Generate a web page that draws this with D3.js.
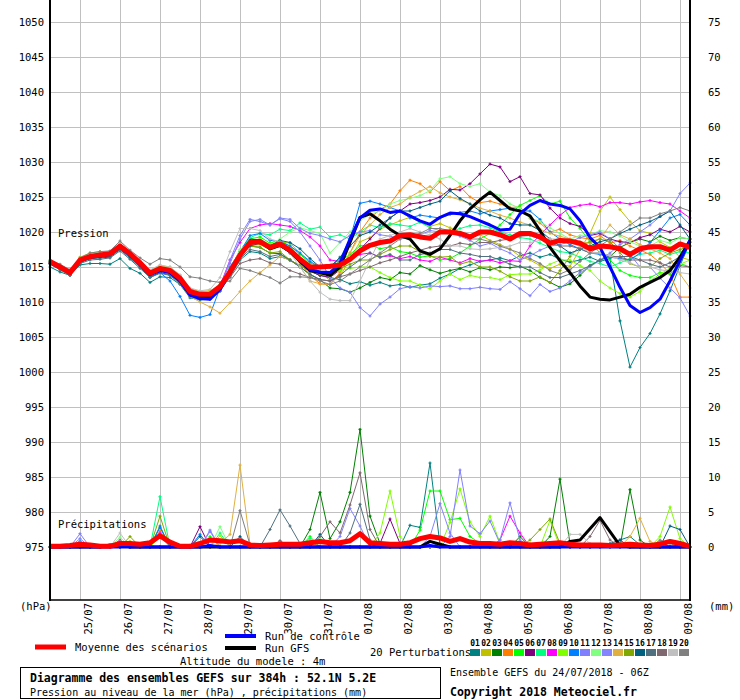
<!DOCTYPE html>
<html><head><meta charset="utf-8">
<script src="https://cdn.jsdelivr.net/npm/d3@7"></script>
<style>body{margin:0;background:#fff}svg{display:block}text{font-family:"DejaVu Sans Mono",monospace;fill:#000}</style>
</head><body><svg id="c" width="740" height="700"></svg>
<script>
// ---------- DATA ----------
const dateLabels = ["25/07","26/07","27/07","28/07","29/07","30/07","31/07","01/08","02/08","03/08","04/08","05/08","06/08","07/08","08/08","09/08"];
const pressureTicks = [975,980,985,990,995,1000,1005,1010,1015,1020,1025,1030,1035,1040,1045,1050];
const precipTicks = [0,5,10,15,20,25,30,35,40,45,50,55,60,65,70,75];
const memberNames = ["01","02","03","04","05","06","07","08","09","10","11","12","13","14","15","16","17","18","19","20"];
const memberColors = ["#008080","#c0c000","#008000","#ff8000","#00ff00","#800080","#00ff80","#ff00ff","#80ff00","#0080ff","#8080ff","#80ff80","#8484ff","#e0b040","#80a800","#006080","#507080","#806870","#c0c0c0","#808080"];

// sea-level pressure, one value every 6 h from 24/07 06Z (hPa)
const pMean = [1015.8,1015.0,1014.2,1016.0,1016.5,1016.7,1016.9,1018.0,1016.9,1015.6,1014.1,1014.8,1014.5,1013.4,1011.5,1011.1,1011.1,1012.2,1014.3,1016.7,1018.5,1018.6,1017.8,1018.3,1017.4,1016.1,1015.0,1015.0,1015.1,1015.3,1016.1,1017.3,1018.1,1018.5,1018.7,1019.5,1019.6,1019.3,1019.1,1020.0,1020.0,1019.8,1019.3,1020.0,1020.0,1019.6,1019.0,1019.8,1019.8,1019.3,1018.4,1018.8,1018.7,1018.4,1017.6,1018.0,1017.9,1017.6,1016.8,1017.6,1017.9,1017.9,1017.4,1018.3,1017.8];
const pControl = [1015.6,1014.9,1014.1,1015.9,1016.4,1016.6,1016.8,1017.9,1016.7,1015.4,1013.9,1014.5,1014.2,1013.0,1011.0,1010.5,1010.4,1011.8,1014.2,1016.8,1018.6,1018.8,1017.8,1018.3,1017.3,1016.0,1014.6,1014.3,1014.2,1015.5,1019.0,1022.0,1023.1,1023.3,1022.8,1023.0,1022.3,1021.6,1021.1,1022.1,1022.7,1022.6,1022.2,1021.6,1021.0,1020.3,1020.4,1022.6,1023.8,1024.5,1024.0,1023.8,1023.3,1021.6,1019.2,1017.8,1015.0,1012.1,1009.5,1008.5,1009.2,1010.4,1013.0,1015.9,1018.8];
const pGFS = [1015.7,1015.0,1014.2,1016.0,1016.5,1016.6,1016.8,1017.9,1016.8,1015.5,1014.0,1014.7,1014.4,1013.2,1011.2,1010.8,1010.8,1012.0,1014.2,1016.8,1018.4,1018.6,1017.6,1018.1,1017.2,1015.8,1014.5,1014.2,1013.8,1015.0,1018.5,1022.1,1022.6,1021.6,1020.4,1019.5,1019.0,1017.3,1016.8,1017.6,1019.5,1021.6,1023.3,1024.6,1025.7,1024.5,1023.3,1023.0,1022.3,1020.2,1017.8,1015.9,1014.2,1012.3,1010.7,1010.4,1010.3,1010.7,1011.1,1012.1,1012.8,1013.5,1014.5,1016.4,1018.8];
const p01 = [1015.0,1014.3,1013.8,1015.3,1015.5,1015.5,1015.4,1016.2,1014.8,1014.1,1012.8,1013.6,1013.5,1012.5,1010.6,1010.3,1010.4,1011.6,1013.6,1016.0,1017.2,1017.0,1016.2,1016.5,1016.0,1015.2,1014.4,1013.8,1013.5,1013.2,1012.6,1012.9,1012.4,1012.8,1012.3,1012.5,1012.1,1012.4,1012.6,1013.4,1014.0,1014.8,1015.3,1015.8,1016.0,1016.3,1015.9,1016.6,1017.0,1016.4,1016.8,1016.1,1015.7,1016.0,1016.4,1015.8,1016.2,1007.3,1000.7,1003.5,1005.5,1008.3,1011.6,1015.2,1018.5];
const p02 = [1015.9,1015.2,1014.5,1016.4,1017.0,1017.2,1017.1,1018.3,1017.2,1015.9,1014.5,1015.2,1015.0,1013.8,1011.9,1011.5,1011.6,1012.4,1014.5,1017.0,1018.8,1019.0,1018.2,1018.6,1018.4,1017.0,1015.5,1014.2,1013.1,1013.6,1016.2,1018.6,1019.2,1020.4,1021.0,1021.6,1022.1,1021.4,1020.8,1021.2,1020.6,1020.0,1019.3,1019.6,1018.8,1018.2,1017.6,1016.5,1016.0,1015.2,1014.8,1015.4,1015.1,1017.5,1019.8,1023.0,1025.0,1023.2,1021.5,1020.2,1019.8,1018.6,1017.8,1016.4,1016.0];
const p03 = [1015.6,1014.8,1014.0,1015.8,1016.3,1016.4,1016.6,1017.8,1016.5,1015.2,1013.8,1014.5,1014.2,1013.0,1011.0,1010.7,1010.6,1011.8,1014.0,1016.5,1018.0,1017.8,1017.0,1016.9,1016.0,1015.0,1013.9,1013.2,1012.0,1011.9,1011.4,1012.0,1012.8,1013.5,1013.2,1014.2,1014.0,1015.2,1014.6,1014.1,1014.5,1014.8,1014.3,1014.9,1014.6,1015.0,1014.9,1015.1,1014.5,1013.5,1012.8,1012.1,1012.6,1013.8,1015.2,1016.0,1016.5,1017.8,1018.5,1019.0,1018.6,1019.4,1018.8,1019.2,1019.0];
const p04 = [1015.7,1015.1,1014.3,1016.1,1016.7,1016.9,1016.8,1018.1,1017.0,1015.7,1014.3,1014.9,1014.7,1013.6,1011.6,1011.0,1011.2,1012.0,1014.2,1016.8,1018.5,1018.8,1017.6,1018.0,1017.0,1015.6,1013.8,1012.6,1012.5,1014.2,1017.0,1020.0,1022.0,1023.2,1024.0,1025.9,1027.4,1026.9,1025.7,1027.2,1025.9,1026.5,1025.0,1024.2,1024.4,1024.0,1023.5,1023.6,1022.0,1021.3,1020.0,1020.4,1019.6,1019.2,1019.0,1019.5,1018.4,1018.8,1018.0,1017.4,1016.8,1015.6,1014.0,1010.7,1010.7];
const p05 = [1015.8,1015.1,1014.4,1016.2,1016.6,1016.8,1017.0,1018.1,1017.0,1015.7,1014.2,1015.0,1014.6,1013.5,1011.3,1010.9,1011.0,1012.1,1014.8,1017.4,1019.0,1019.3,1018.4,1018.8,1018.0,1016.8,1015.6,1015.0,1015.0,1015.8,1016.8,1018.0,1018.2,1017.6,1017.9,1017.2,1017.0,1016.4,1016.6,1016.0,1016.2,1017.0,1018.0,1019.0,1019.8,1021.0,1022.5,1023.8,1024.5,1025.2,1024.0,1024.4,1022.0,1020.5,1018.6,1017.0,1016.0,1014.5,1013.8,1013.5,1013.5,1014.2,1014.0,1015.5,1015.0];
const p06 = [1015.6,1014.9,1014.1,1016.0,1016.4,1016.5,1016.8,1017.9,1016.7,1015.4,1013.9,1014.6,1014.3,1013.2,1011.2,1010.8,1010.8,1012.0,1014.4,1016.9,1019.0,1018.8,1017.6,1018.0,1017.0,1015.8,1014.4,1013.8,1013.5,1014.6,1016.0,1017.5,1019.0,1020.5,1022.0,1023.0,1024.0,1024.2,1024.5,1025.0,1026.1,1026.0,1026.9,1028.3,1029.7,1029.3,1027.2,1027.9,1025.5,1025.3,1023.4,1022.0,1021.2,1020.8,1019.5,1019.8,1019.0,1018.6,1018.5,1019.2,1019.6,1020.4,1020.0,1020.8,1020.0];
const p07 = [1015.9,1015.2,1014.4,1016.1,1016.6,1016.9,1017.0,1018.2,1017.1,1015.8,1014.3,1015.0,1014.8,1013.7,1011.7,1011.3,1011.3,1012.5,1014.6,1017.2,1019.2,1019.8,1019.6,1020.4,1020.2,1021.3,1020.4,1020.7,1019.3,1019.6,1019.0,1020.0,1021.0,1020.6,1021.2,1021.0,1020.8,1021.4,1020.6,1020.2,1020.0,1020.5,1020.9,1021.0,1020.6,1020.0,1019.6,1019.2,1019.0,1018.4,1017.8,1017.2,1017.0,1016.4,1015.8,1015.5,1015.0,1015.6,1016.2,1016.8,1017.0,1017.4,1016.8,1017.2,1017.0];
const p08 = [1015.7,1015.0,1014.2,1016.0,1016.6,1016.9,1017.0,1018.0,1016.9,1015.5,1014.0,1014.7,1014.4,1013.3,1011.4,1011.0,1011.0,1012.3,1016.0,1018.5,1020.5,1021.0,1021.2,1021.0,1020.8,1020.2,1019.3,1018.0,1016.0,1015.8,1016.2,1016.8,1017.0,1016.4,1016.6,1016.2,1016.5,1016.0,1015.8,1016.4,1016.0,1015.6,1016.2,1015.8,1016.0,1015.6,1015.9,1015.8,1018.0,1019.6,1021.0,1022.4,1023.5,1023.8,1024.0,1023.6,1024.2,1024.2,1024.0,1024.3,1024.5,1024.2,1024.0,1023.0,1022.0];
const p09 = [1015.8,1015.0,1014.3,1016.0,1016.5,1016.6,1016.9,1017.9,1016.8,1015.6,1014.1,1014.8,1014.5,1013.4,1011.6,1011.2,1011.2,1012.2,1014.2,1016.6,1018.0,1018.2,1017.5,1017.9,1017.5,1016.2,1015.0,1014.3,1014.0,1014.5,1014.8,1015.0,1015.0,1014.2,1013.5,1013.0,1013.0,1012.4,1011.9,1013.0,1014.0,1013.2,1013.8,1013.5,1013.5,1013.2,1013.9,1014.0,1014.0,1014.6,1015.4,1016.0,1016.0,1015.2,1014.5,1013.0,1012.0,1011.2,1010.7,1011.5,1013.0,1014.0,1014.8,1015.4,1016.0];
const p10 = [1015.5,1014.8,1014.0,1015.7,1016.2,1016.4,1016.5,1017.6,1016.4,1015.0,1013.5,1014.2,1013.0,1010.8,1008.1,1007.8,1008.2,1012.0,1015.0,1017.2,1019.5,1019.8,1018.8,1018.6,1018.0,1017.0,1015.8,1015.0,1015.0,1016.2,1019.0,1024.1,1024.4,1024.0,1023.5,1023.0,1022.0,1022.4,1022.2,1022.0,1022.5,1022.8,1023.0,1022.6,1023.0,1023.2,1023.4,1023.0,1023.0,1021.8,1020.0,1019.0,1018.2,1017.6,1017.0,1016.8,1016.4,1016.2,1016.0,1017.0,1018.5,1020.2,1022.0,1022.5,1021.0];
const p11 = [1015.6,1014.9,1014.0,1015.9,1016.4,1016.6,1016.7,1017.8,1016.6,1015.3,1013.8,1014.4,1014.2,1013.0,1011.0,1010.6,1010.7,1012.0,1016.0,1019.5,1021.8,1021.5,1021.0,1021.9,1021.5,1020.0,1018.0,1016.0,1013.5,1012.0,1011.4,1009.2,1008.0,1009.7,1010.7,1011.9,1012.2,1012.0,1012.3,1012.2,1012.3,1011.9,1011.9,1012.1,1011.9,1011.8,1012.9,1011.9,1010.9,1012.5,1011.5,1012.0,1013.0,1014.2,1015.0,1016.0,1017.0,1018.2,1019.0,1020.0,1021.0,1022.2,1023.0,1025.5,1027.0];
const p12 = [1015.9,1015.1,1014.4,1016.2,1016.8,1017.0,1017.1,1018.2,1017.1,1015.8,1014.3,1015.0,1014.7,1013.6,1011.5,1011.2,1011.3,1012.4,1014.6,1017.5,1018.5,1018.9,1018.2,1019.0,1020.0,1020.6,1020.2,1019.8,1017.0,1018.5,1020.0,1021.6,1022.5,1023.0,1024.0,1024.5,1024.8,1025.2,1025.9,1027.6,1027.9,1026.9,1026.5,1026.9,1025.7,1025.2,1024.0,1023.4,1022.0,1021.5,1020.6,1019.8,1019.0,1019.5,1019.6,1020.2,1020.0,1019.4,1018.6,1018.0,1018.0,1018.8,1018.4,1019.2,1019.0];
const p13 = [1015.7,1015.0,1014.2,1016.0,1016.5,1016.8,1016.9,1018.0,1016.9,1015.5,1014.0,1014.7,1014.4,1013.3,1011.2,1010.9,1011.0,1012.3,1015.5,1019.0,1021.5,1021.8,1021.0,1022.0,1021.8,1020.5,1019.8,1019.5,1019.0,1018.6,1019.5,1020.0,1020.2,1019.6,1019.4,1019.0,1019.2,1019.6,1020.2,1020.0,1020.0,1019.4,1018.8,1018.0,1018.4,1017.6,1017.0,1016.0,1016.6,1017.4,1018.0,1018.2,1018.6,1019.2,1019.6,1020.0,1019.0,1017.6,1016.8,1015.0,1015.0,1013.4,1012.0,1010.6,1008.0];
const p14 = [1015.6,1014.8,1014.1,1015.8,1016.3,1016.5,1016.6,1017.7,1016.6,1015.2,1013.8,1014.4,1014.0,1012.6,1010.8,1010.0,1009.3,1008.4,1009.9,1011.5,1013.0,1014.2,1015.3,1016.5,1016.0,1015.0,1013.0,1012.6,1012.5,1014.0,1017.0,1019.5,1021.0,1022.5,1023.5,1024.0,1025.0,1025.8,1026.5,1025.6,1025.0,1024.6,1024.0,1023.4,1023.0,1022.4,1022.0,1021.4,1021.0,1020.4,1019.8,1019.4,1019.0,1018.6,1018.4,1019.0,1021.0,1019.6,1019.0,1018.2,1017.6,1017.0,1016.2,1014.0,1012.0];
const p15 = [1015.8,1015.1,1014.3,1016.1,1016.6,1016.8,1017.0,1018.0,1017.0,1015.7,1014.2,1014.9,1014.6,1013.5,1011.5,1011.2,1011.1,1012.3,1014.3,1016.8,1018.0,1017.8,1017.0,1017.2,1016.0,1015.2,1014.4,1014.0,1014.0,1014.8,1015.4,1016.0,1016.0,1016.8,1017.5,1018.0,1018.0,1017.2,1016.5,1016.4,1016.5,1015.4,1015.8,1015.0,1015.0,1014.4,1013.6,1013.0,1013.0,1013.6,1012.8,1014.5,1016.5,1018.0,1018.6,1019.0,1018.6,1017.0,1015.5,1015.0,1015.0,1016.2,1017.0,1017.5,1018.0];
const p16 = [1015.5,1014.7,1013.9,1015.6,1016.2,1016.3,1016.4,1017.5,1016.3,1015.0,1013.6,1014.2,1013.9,1012.8,1010.9,1010.4,1010.5,1011.7,1014.0,1016.6,1018.0,1018.4,1018.0,1018.8,1018.5,1017.6,1016.2,1015.0,1015.0,1016.4,1018.0,1019.5,1020.0,1021.0,1022.0,1023.0,1023.0,1023.5,1024.0,1024.4,1025.9,1024.8,1024.0,1023.0,1022.4,1022.0,1021.2,1021.0,1021.0,1020.2,1019.0,1018.0,1017.0,1017.5,1018.0,1018.6,1019.0,1019.8,1020.4,1021.0,1021.5,1022.2,1023.0,1021.0,1019.0];
const p17 = [1015.4,1014.6,1013.8,1015.5,1016.0,1016.1,1016.3,1017.3,1016.1,1014.8,1013.5,1014.1,1013.8,1012.6,1010.8,1010.5,1010.4,1011.5,1013.8,1016.2,1017.5,1017.2,1016.5,1016.8,1016.0,1015.0,1014.0,1013.2,1013.0,1013.8,1015.0,1016.0,1017.0,1016.4,1016.8,1016.0,1016.0,1016.8,1017.0,1017.5,1017.5,1017.0,1016.8,1016.5,1016.5,1016.0,1015.4,1015.0,1015.0,1014.2,1013.5,1013.5,1014.0,1014.5,1015.2,1016.0,1016.5,1016.5,1016.5,1016.0,1015.4,1015.0,1015.6,1016.5,1018.0];
const p18 = [1015.7,1014.9,1014.2,1015.9,1016.4,1016.6,1016.8,1017.8,1016.8,1015.4,1014.0,1014.7,1014.4,1013.3,1011.3,1011.0,1010.9,1012.1,1013.5,1015.5,1016.0,1016.2,1015.6,1015.4,1014.5,1014.0,1013.5,1013.2,1013.0,1013.6,1014.0,1014.5,1015.0,1015.6,1016.0,1016.5,1017.0,1017.4,1017.8,1018.0,1018.0,1018.4,1018.2,1018.5,1018.5,1018.8,1019.0,1019.4,1019.5,1019.0,1018.4,1018.0,1018.0,1017.6,1017.0,1017.0,1016.6,1016.4,1016.0,1016.0,1016.0,1015.6,1015.0,1015.2,1015.0];
const p19 = [1015.9,1015.2,1014.5,1016.2,1016.8,1017.0,1017.2,1018.3,1017.2,1015.9,1014.6,1015.3,1015.0,1013.9,1012.0,1011.6,1011.8,1013.5,1017.2,1020.5,1020.5,1020.2,1019.0,1018.6,1017.0,1015.0,1013.0,1011.4,1010.4,1010.2,1010.2,1013.0,1016.0,1019.0,1019.5,1020.0,1020.5,1020.0,1019.6,1019.0,1018.0,1018.0,1017.6,1017.5,1017.6,1017.8,1018.0,1018.5,1018.5,1018.8,1019.0,1019.0,1018.5,1018.0,1017.0,1017.0,1016.6,1016.0,1015.6,1015.0,1015.0,1014.6,1014.4,1014.2,1014.0];
const p20 = [1016.0,1015.4,1014.6,1016.3,1017.0,1017.2,1017.3,1018.7,1017.4,1016.3,1015.4,1016.2,1016.0,1015.0,1013.6,1013.4,1013.0,1012.8,1013.0,1014.8,1014.5,1014.0,1013.5,1012.7,1013.6,1013.6,1013.5,1013.0,1012.5,1013.0,1014.0,1015.0,1016.0,1017.0,1018.0,1019.0,1019.5,1019.8,1020.5,1020.5,1020.2,1019.6,1019.0,1019.0,1018.6,1018.0,1017.5,1017.0,1016.2,1015.5,1014.5,1014.0,1014.6,1015.8,1017.0,1018.0,1019.0,1020.0,1021.0,1022.0,1022.0,1022.6,1023.0,1023.5,1023.0];
const pMembers = [p01,p02,p03,p04,p05,p06,p07,p08,p09,p10,p11,p12,p13,p14,p15,p16,p17,p18,p19,p20];

// precipitation (mm per 6 h)
const rMean = [0.1,0.1,0.2,0.4,0.3,0.1,0.1,0.5,0.5,0.4,0.6,1.6,0.7,0.1,0.1,0.5,1.0,0.9,0.7,0.9,0.3,0.2,0.3,0.4,0.4,0.4,0.6,0.8,0.6,0.6,0.9,1.9,0.6,0.5,0.4,0.4,0.6,1.2,1.5,1.3,0.8,1.2,0.7,0.5,0.5,0.4,0.6,0.5,0.3,0.4,0.5,0.6,0.4,0.3,0.3,0.3,0.2,0.3,0.4,0.3,0.2,0.4,0.8,0.5,0.1];
// non-zero 6-hourly amounts: [step index, mm]
const rControlEvents = [[16,0.2],[38,0.2]];
const rGFSEvents = [[6,0.3],[7,0.3],[38,0.8],[39,0.4],[52,0.8],[53,1.0],[54,2.6],[55,4.2],[56,2.2],[57,0.2]];
const rMemberEvents = [
  [[11,3.0],[36,3.1],[37,2.8],[38,12.0],[39,0.3],[57,1.0],[58,1.5],[59,0.3]],
  [[8,0.8],[26,0.8],[48,0.5]],
  [[26,2.5],[27,7.8],[28,1.2],[29,3.6],[30,7.8],[31,16.8],[32,4.4],[33,0.5],[47,1.5],[50,1.5],[51,9.7],[52,0.5],[58,8.2],[59,1.0]],
  [[7,0.5],[11,2.3]],
  [[11,1.5],[16,1.5],[26,1.5],[37,2.4],[38,8.0],[39,8.0],[40,3.9],[41,4.1],[42,1.5],[43,0.5],[62,0.8]],
  [[15,2.9],[33,0.5],[34,4.0],[35,0.5]],
  [[11,7.2],[17,2.0],[26,1.2]],
  [[7,1.0],[11,2.0],[45,1.0],[46,4.4],[47,2.0]],
  [[11,1.5],[17,1.6],[33,2.0],[34,8.0],[35,1.5],[40,3.5],[41,8.3],[42,3.6],[43,1.5],[44,4.4],[45,0.6],[50,3.8],[61,1.5],[62,5.7],[63,1.2]],
  [[3,0.8],[11,2.8],[15,1.8],[38,0.8]],
  [[3,1.9],[16,2.4],[40,1.5],[41,11.0],[42,3.0],[43,1.9],[44,3.7],[45,0.5]],
  [[3,0.6],[7,1.4],[17,2.9],[27,1.3]],
  [[3,1.2],[16,2.2],[29,1.5],[30,5.5],[31,3.0],[38,1.5],[39,6.2],[40,2.0],[45,1.0],[46,6.3],[47,1.0]],
  [[7,0.8],[17,0.5],[18,1.8],[19,11.7],[20,0.4],[58,1.5],[59,4.1],[60,0.8]],
  [[8,1.5],[11,4.4],[48,1.0],[49,2.5],[50,4.0],[51,0.5]],
  [[15,1.5],[19,1.5],[27,1.8],[56,0.5],[57,1.0],[62,3.0],[63,2.5]],
  [[22,2.5],[23,5.3],[24,3.0],[25,0.5],[30,2.0],[31,6.1],[32,1.0]],
  [[23,0.9],[27,1.5],[28,3.6],[29,2.0],[30,6.0],[31,10.6],[32,2.5],[54,1.5],[55,3.8],[56,1.0],[61,0.8]],
  [[7,2.0],[52,1.8],[53,1.8],[54,0.5],[61,0.6]],
  [[7,0.8],[19,5.2],[20,0.3],[61,1.0],[62,0.5]]
];
const stepHours = 6;
const nSteps = pMean.length;

// ---------- CHART ----------
const svg = d3.select("#c");
const x = d3.scaleLinear().domain([0, 384]).range([50, 690]);
const yP = d3.scaleLinear().domain([975, 1050]).range([547, 22]);
const yR = d3.scaleLinear().domain([0, 75]).range([547, 22]);
const hours = d3.range(nSteps).map(i => i * stepHours);
const dayHours = dateLabels.map((d, k) => 18 + 24 * k);

const expand = ev => { const a = new Array(nSteps).fill(0); ev.forEach(([i, v]) => a[i] = v); return a; };

// grid
const g = svg.append("g");
g.selectAll("line.v").data(dayHours).join("line")
  .attr("x1", d => x(d)).attr("x2", d => x(d)).attr("y1", 0).attr("y2", 600)
  .attr("stroke", "#c0c0c0").attr("stroke-width", 1).attr("shape-rendering", "crispEdges");
g.selectAll("line.h").data(pressureTicks).join("line")
  .attr("x1", 50).attr("x2", 690).attr("y1", d => yP(d)).attr("y2", d => yP(d))
  .attr("stroke", "#c0c0c0").attr("stroke-width", 1).attr("shape-rendering", "crispEdges");

// axes via d3
const leftAxis = d3.axisLeft(yP).tickValues(pressureTicks).tickSize(0).tickPadding(6).tickFormat(d3.format("d"));
const la = svg.append("g").attr("transform", "translate(50,0)").call(leftAxis);
la.select(".domain").remove();
la.selectAll("text").attr("font-size", 10.5).attr("font-family", "DejaVu Sans Mono");
const rightAxis = d3.axisRight(yR).tickValues(precipTicks).tickSize(0).tickPadding(18).tickFormat(d3.format("d"));
const ra = svg.append("g").attr("transform", "translate(690,0)").call(rightAxis);
ra.select(".domain").remove();
ra.selectAll("text").attr("font-size", 10.5).attr("font-family", "DejaVu Sans Mono");

const bottomAxis = d3.axisBottom(x).tickValues(dayHours).tickSize(0).tickFormat((d, k) => dateLabels[k]);
const ba = svg.append("g").attr("transform", "translate(0,600)").call(bottomAxis);
ba.select(".domain").remove();
ba.selectAll("text").attr("font-size", 10.5).attr("font-family", "DejaVu Sans Mono")
  .attr("text-anchor", "end").attr("dy", null).attr("y", 0)
  .attr("transform", "translate(11,3) rotate(-90)");

const lineP = d3.line().x((d, i) => x(hours[i])).y(d => yP(d));
const lineR = d3.line().x((d, i) => x(hours[i])).y(d => yR(d));
const plus = "M-1.5,0H1.5M0,-1.5V1.5";

const plot = svg.append("g");
function drawSeries(vals, lineGen, yS, color, width, markers) {
  plot.append("path").datum(vals).attr("d", lineGen).attr("fill", "none")
    .attr("stroke", color).attr("stroke-width", width).attr("stroke-linejoin", "round");
  if (markers) {
    plot.append("g").selectAll("path").data(vals).join("path")
      .attr("transform", (d, i) => `translate(${x(hours[i])},${yS(d)})`)
      .attr("d", plus).attr("stroke", color).attr("stroke-width", 1.2).attr("fill", "none");
  }
}
// perturbations
pMembers.forEach((arr, k) => drawSeries(arr, lineP, yP, memberColors[k], 1, true));
rMemberEvents.forEach((ev, k) => drawSeries(expand(ev), lineR, yR, memberColors[k], 1, true));
// GFS, control, mean
drawSeries(pGFS, lineP, yP, "#000", 3, false);
drawSeries(expand(rGFSEvents), lineR, yR, "#000", 3, false);
drawSeries(pControl, lineP, yP, "#0000ff", 3, false);
drawSeries(expand(rControlEvents), lineR, yR, "#0000ff", 3, false);
drawSeries(pMean, lineP, yP, "#ff0000", 5, false);
drawSeries(rMean, lineR, yR, "#ff0000", 5, false);

// frame
svg.append("line").attr("x1", 50).attr("x2", 50).attr("y1", 0).attr("y2", 601).attr("stroke", "#000").attr("stroke-width", 2);
svg.append("line").attr("x1", 690).attr("x2", 690).attr("y1", 0).attr("y2", 601).attr("stroke", "#000").attr("stroke-width", 2);
svg.append("line").attr("x1", 49).attr("x2", 691).attr("y1", 600).attr("y2", 600).attr("stroke", "#000").attr("stroke-width", 1.5);

const T = (txt, xx, yy, size, bold, anchor) => svg.append("text").text(txt).attr("x", xx).attr("y", yy)
  .attr("font-size", size).attr("font-weight", bold ? "bold" : "normal").attr("text-anchor", anchor || "start");

T("Pression", 58, 237, 10.5);
T("Précipitations", 58, 528, 10.5);
T("(hPa)", 20, 610, 10.5);
T("(mm)", 709, 610, 10.5);

// legend
svg.append("line").attr("x1", 35).attr("x2", 66).attr("y1", 647).attr("y2", 647).attr("stroke", "#ff0000").attr("stroke-width", 5);
T("Moyenne des scénarios", 75, 651, 10.5);
svg.append("line").attr("x1", 225).attr("x2", 256).attr("y1", 636).attr("y2", 636).attr("stroke", "#0000ff").attr("stroke-width", 4);
T("Run de contrôle", 265, 640, 10.5);
svg.append("line").attr("x1", 225).attr("x2", 256).attr("y1", 648).attr("y2", 648).attr("stroke", "#000").attr("stroke-width", 4);
T("Run GFS", 265, 652, 10.5);
T("Altitude du modele : 4m", 180, 665, 10.5);
T("20 Perturbations", 370, 656, 10.5);
const lg = svg.append("g");
lg.selectAll("rect").data(memberNames).join("rect")
  .attr("x", (d, k) => 470 + 11 * k).attr("y", 649).attr("width", 10).attr("height", 7)
  .attr("fill", (d, k) => memberColors[k]);
lg.selectAll("text").data(memberNames).join("text").text(d => d)
  .attr("x", (d, k) => 475 + 11 * k).attr("y", 646).attr("text-anchor", "middle")
  .attr("font-size", 8).attr("font-weight", "bold");

// title box
svg.append("rect").attr("x", 20.5).attr("y", 667.5).attr("width", 420).attr("height", 31).attr("fill", "none").attr("stroke", "#000");
T("Diagramme des ensembles GEFS sur 384h : 52.1N 5.2E", 30, 682, 11.5, true);
T("Pression au niveau de la mer (hPa) , précipitations (mm)", 30, 696, 10);
T("Ensemble GEFS du 24/07/2018 - 06Z", 450, 676, 10);
T("Copyright 2018 Meteociel.fr", 450, 696, 11.5, true);
</script></body></html>
